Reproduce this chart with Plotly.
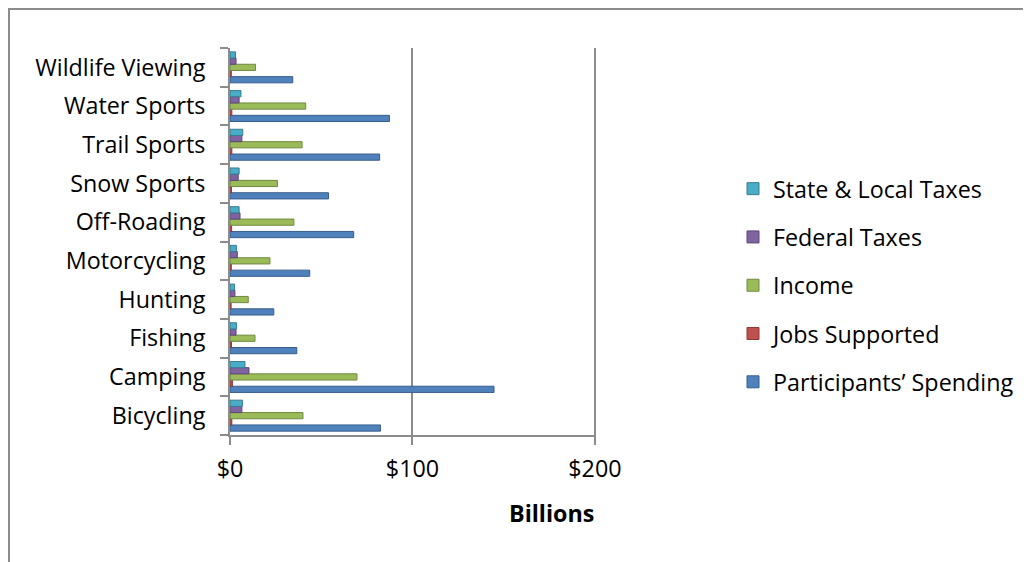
import plotly.graph_objects as go

categories = ["Bicycling", "Camping", "Fishing", "Hunting", "Motorcycling",
              "Off-Roading", "Snow Sports", "Trail Sports", "Water Sports", "Wildlife Viewing"]
spending = [82.5, 144.7, 36.6, 24.0, 43.7, 67.8, 54.0, 82.0, 87.4, 34.4]
jobs = [1.0, 1.3, 0.8, 0.6, 0.7, 0.9, 0.8, 1.0, 1.0, 0.7]
income = [40.0, 69.6, 13.7, 10.0, 21.9, 35.0, 26.0, 39.5, 41.5, 14.0]
federal = [6.5, 10.4, 3.3, 2.7, 4.0, 5.5, 4.5, 6.5, 5.0, 3.3]
state_local = [6.8, 8.2, 3.6, 2.5, 3.5, 5.0, 5.0, 7.0, 6.0, 3.0]
x_ticks = [0, 100, 200]
x_tick_labels = ["$0", "$100", "$200"]

series = [
    ("Participants\u2019 Spending", spending, "#4F81BD", "#385D8A", 5),
    ("Jobs Supported", jobs, "#C0504D", "#8C3836", 4),
    ("Income", income, "#9BBB59", "#71893F", 3),
    ("Federal Taxes", federal, "#8064A2", "#5C4776", 2),
    ("State & Local Taxes", state_local, "#4BACC6", "#357D91", 1),
]

OFF = 8  # page body margin
W, H = 1031, 562
L, R, T, B = 230 - OFF, 596 - OFF, 48 - OFF, 435 - OFF
FONT = "Open Sans, Calibri, sans-serif"
FS = 23.3

fig = go.Figure()
for name, vals, col, edge, rank in series:
    fig.add_trace(go.Bar(
        y=categories, x=vals, name=name, orientation="h",
        marker=dict(color=col, line=dict(color=edge, width=1)),
        legendgroup=name, legendrank=rank,
    ))

def px_x(p):
    return (p - OFF - L) / (R - L)

def px_y(p):
    return (B - (p - OFF)) / (B - T)

fig.update_layout(
    width=W, height=H,
    margin=dict(l=L, r=W - R, t=T, b=H - B, autoexpand=False),
    paper_bgcolor="white", plot_bgcolor="white",
    font=dict(family=FONT, size=FS, color="black"),
    barmode="group", bargap=0.2, bargroupgap=0,
    showlegend=True,
    legend=dict(
        traceorder="grouped", tracegroupgap=15,
        x=px_x(733), y=px_y(167), xanchor="left", yanchor="top",
        font=dict(family=FONT, size=FS, color="black"),
        bgcolor="rgba(0,0,0,0)",
    ),
    xaxis=dict(
        range=[0, 200.6], tickvals=x_ticks, ticktext=x_tick_labels,
        showgrid=True, gridcolor="#8c8c8c", gridwidth=2,
        showline=True, linecolor="#8c8c8c", linewidth=2,
        ticks="outside", ticklen=8, tickcolor="#8c8c8c", tickwidth=2,
        zeroline=False, ticklabelstandoff=4,
        tickfont=dict(family=FONT, size=FS, color="black"),
    ),
    yaxis=dict(
        type="category", showgrid=False,
        showline=True, linecolor="#8c8c8c", linewidth=2,
        ticks="outside", ticklen=8, tickcolor="#8c8c8c", tickwidth=2,
        tickson="boundaries", ticklabelstandoff=18,
        tickfont=dict(family=FONT, size=FS, color="black"),
    ),
    annotations=[dict(
        text="<b>Billions</b>", xref="paper", yref="paper",
        x=px_x(551), y=px_y(513), xanchor="center", yanchor="middle",
        showarrow=False, font=dict(family=FONT, size=FS, color="black"),
    )],
    shapes=[dict(
        type="rect", xref="paper", yref="paper",
        x0=px_x(9), x1=px_x(1050), y0=px_y(580), y1=px_y(9),
        line=dict(color="#8c8c8c", width=2), fillcolor="rgba(0,0,0,0)",
        layer="below",
    )],
)

fig.write_html("out.html")
